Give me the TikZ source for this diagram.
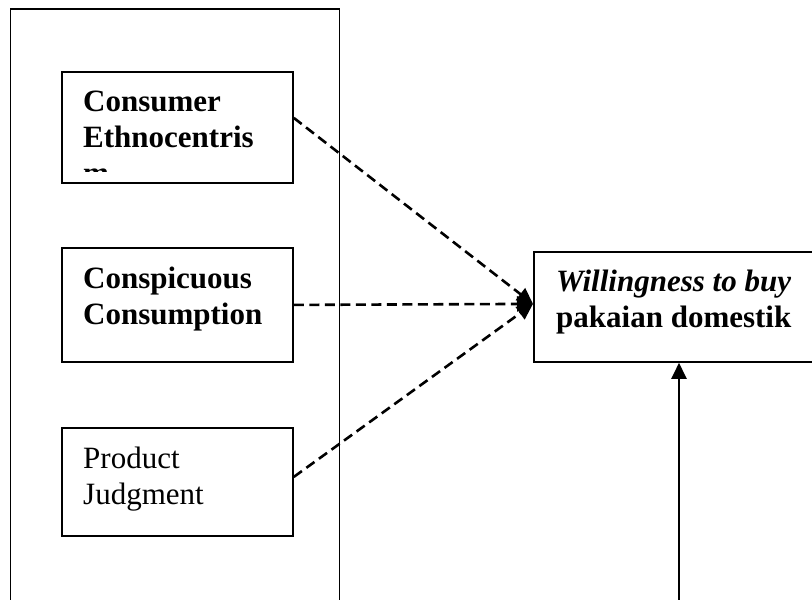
\documentclass[tikz,border=0pt]{standalone}
\usepackage{fontspec}
\setmainfont{Liberation Serif}
\usetikzlibrary{positioning,arrows.meta}

\begin{document}
\begin{tikzpicture}[x=1pt,y=-1pt,>={Triangle[length=16pt,width=15pt]},line join=miter,
  box/.style={draw,line width=1.8pt,minimum width=231pt,inner sep=0pt,anchor=north west},
  boxtext/.style={anchor=north west,inner sep=0pt,align=left,font=\fontsize{31}{36}\selectfont},
  dasharrow/.style={->,line width=2.6pt,dash pattern=on 10pt off 5.5pt}]
%%
\useasboundingbox (0,0) rectangle (812,600);
\clip (0,0) rectangle (812,600);
\fill[white] (0,0) rectangle (812,600);
\draw[line width=1.8pt] (10.5,9) rectangle (339.5,640);
%
\node (ce) at (61,71) [box,minimum height=111pt] {};
\begin{scope}
  \clip (61,71) rectangle (292,171);
  \node (cetext) at (83,91) [boxtext] {\bfseries Consumer\\\bfseries Ethnocentris\\\bfseries m};
\end{scope}
\node (cc) at (61,247) [box,minimum height=114pt] {};
\node (cctext) at (83,267) [boxtext] {\bfseries Conspicuous\\\bfseries Consumption};
\node (pj) at (61,427) [box,minimum height=108pt] {};
\node (pjtext) at (83,447) [boxtext] {Product\\Judgment};
%
\node (wtb) at (533,251) [box,minimum width=320pt,minimum height=110pt] {};
\node (wtbtext) at (556,270) [boxtext] {\bfseries\itshape Willingness to buy\\\bfseries pakaian domestik};
\coordinate (src) at (679,640);
%
\draw [dasharrow] ([yshift=9.5pt]ce.east) -- ([yshift=3pt]wtb.west);
\draw [dasharrow] (cc.east) -- ([yshift=3pt]wtb.west);
\draw [dasharrow] ([yshift=5pt]pj.east) -- ([yshift=3pt]wtb.west);
\draw [->,line width=2.4pt] (src) -- (src |- wtb.south);
%
\end{tikzpicture}
\end{document}
